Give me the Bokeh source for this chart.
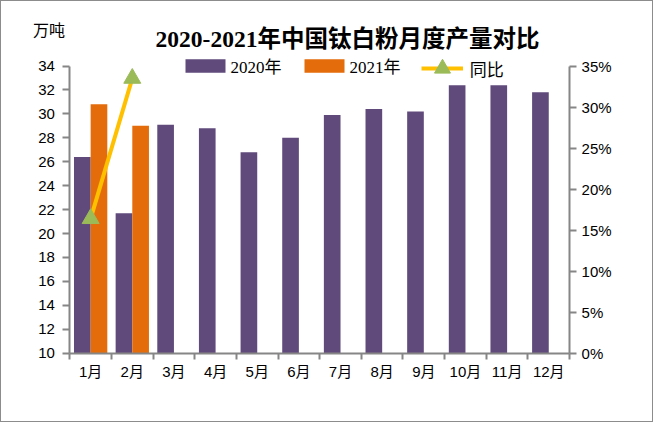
from bokeh.plotting import figure
from bokeh.models import (ColumnDataSource, Range1d, LinearAxis, FixedTicker,
                          NumeralTickFormatter, Legend, LegendItem, Label)
from bokeh.embed import file_html
from bokeh.resources import INLINE

months = ["1月", "2月", "3月", "4月", "5月", "6月", "7月", "8月", "9月", "10月", "11月", "12月"]
prod_2020 = [26.4, 21.7, 29.1, 28.8, 26.8, 28.0, 29.9, 30.4, 30.2, 32.4, 32.4, 31.8]
prod_2021 = [30.8, 29.0]
yoy = [0.164, 0.335]
left_ticks = list(range(10, 35, 2))
right_ticks = [0.0, 0.05, 0.10, 0.15, 0.20, 0.25, 0.30, 0.35]

PURPLE = "#604A7B"
ORANGE = "#E46C0A"
LINE = "#FFC000"
MARK = "#9BBB59"
AXIS = "#868686"
SANS = "Liberation Sans, Noto Sans CJK SC"
SERIF = "Liberation Serif, Noto Sans CJK SC"

W, H = 653, 422
n = len(months)
xs = list(range(1, n + 1))

# the frame covers the whole canvas; all axes are bounded and pinned in place
head = 67.0 / 298.0          # room above top tick / value span
foot = 73.0 / 298.0          # room below bottom tick / value span
left_room = 70.0 / 512.0     # room left of the first category / category span
right_room = 87.0 / 512.0    # room right of the last category / category span
y0, y1 = 10, 34
p0, p1 = 0.0, 0.35
x0, x1 = 0.5, n + 0.5
p = figure(width=W, height=H, output_backend="svg", toolbar_location=None,
           x_range=Range1d(x0 - (x1 - x0) * left_room, x1 + (x1 - x0) * right_room),
           y_range=Range1d(y0 - (y1 - y0) * foot, y1 + (y1 - y0) * head),
           min_border_left=0, min_border_right=0, min_border_top=0, min_border_bottom=0,
           x_axis_location=None, y_axis_location=None)
p.extra_y_ranges = {"pct": Range1d(p0 - (p1 - p0) * foot, p1 + (p1 - p0) * head)}
p.grid.visible = False
p.outline_line_color = None
p.styles = {"border": "1px solid #8c8c8c", "box-sizing": "border-box"}

s20 = ColumnDataSource(dict(x=[v - 0.2 for v in xs], top=prod_2020))
s21 = ColumnDataSource(dict(x=[v + 0.2 for v in xs[:len(prod_2021)]], top=prod_2021))
sy = ColumnDataSource(dict(x=xs[:len(yoy)], y=yoy))

r20 = p.vbar(x="x", top="top", bottom=y0, width=0.4, source=s20, fill_color=PURPLE, line_color=None)
r21 = p.vbar(x="x", top="top", bottom=y0, width=0.4, source=s21, fill_color=ORANGE, line_color=None)
rl = p.line(x="x", y="y", source=sy, y_range_name="pct", line_color=LINE, line_width=4)
rm = p.scatter(x="x", y="y", source=sy, y_range_name="pct", marker="triangle", size=17,
               fill_color=MARK, line_color=MARK)

# category axis
xa = LinearAxis(bounds=(x0, x1), fixed_location=y0,
                ticker=FixedTicker(ticks=xs, minor_ticks=[v + 0.5 for v in range(0, n + 1)]))
xa.major_label_overrides = {i + 1: m for i, m in enumerate(months)}
xa.major_tick_line_color = None
xa.major_tick_out = 0
xa.major_tick_in = 0
xa.minor_tick_line_color = AXIS
xa.minor_tick_line_width = 2
xa.minor_tick_out = 6
xa.minor_tick_in = 0
xa.axis_line_color = AXIS
xa.axis_line_width = 2
xa.major_label_text_font = SANS
xa.major_label_text_font_size = "15px"
xa.major_label_text_color = "#000000"
xa.major_label_standoff = 4
p.add_layout(xa, "below")


def style_value_axis(ax, standoff):
    ax.minor_tick_line_color = None
    ax.major_tick_line_color = AXIS
    ax.major_tick_line_width = 2
    ax.major_tick_out = 7
    ax.major_tick_in = 0
    ax.axis_line_color = AXIS
    ax.axis_line_width = 2
    ax.major_label_text_font = SANS
    ax.major_label_text_font_size = "15px"
    ax.major_label_text_color = "#000000"
    ax.major_label_standoff = standoff


la = LinearAxis(ticker=FixedTicker(ticks=left_ticks), bounds=(y0, y1), fixed_location=x0)
style_value_axis(la, 8)
p.add_layout(la, "left")

ra = LinearAxis(y_range_name="pct", ticker=FixedTicker(ticks=right_ticks),
                formatter=NumeralTickFormatter(format="0%"), bounds=(p0, p1), fixed_location=x1)
style_value_axis(ra, 5)
p.add_layout(ra, "right")

FB = H  # frame height in px
leg_common = dict(orientation="horizontal", background_fill_alpha=0, border_line_color=None,
                  padding=0, margin=0, label_height=20,
                  label_text_font=SERIF, label_text_font_size="17px", label_text_color="#000000")
leg1 = Legend(items=[LegendItem(label="2020年", renderers=[r20])], location=(178.5, FB - 67.4 - 10),
              glyph_width=50, glyph_height=17, label_standoff=1, **leg_common)
leg2 = Legend(items=[LegendItem(label="2021年", renderers=[r21])], location=(297.6, FB - 67.4 - 10),
              glyph_width=50, glyph_height=17, label_standoff=1, **leg_common)
leg3 = Legend(items=[LegendItem(label="同比", renderers=[rl, rm])], location=(419.7, FB - 67.4 - 20),
              glyph_width=42, glyph_height=40, label_standoff=7, **leg_common)
for lg in (leg1, leg2, leg3):
    p.add_layout(lg, "center")

title = Label(x=346, y=FB - 37, x_units="screen", y_units="screen",
              text="2020-2021年中国钛白粉月度产量对比",
              text_font=SERIF, text_font_style="bold", text_font_size="23.5px",
              text_align="center", text_baseline="middle", text_color="#000000")
unit = Label(x=47.5, y=FB - 29, x_units="screen", y_units="screen", text="万吨",
             text_font=SANS, text_font_size="16px",
             text_align="center", text_baseline="middle", text_color="#000000")
p.add_layout(title)
p.add_layout(unit)

open("out.html", "w").write(file_html(p, INLINE))
